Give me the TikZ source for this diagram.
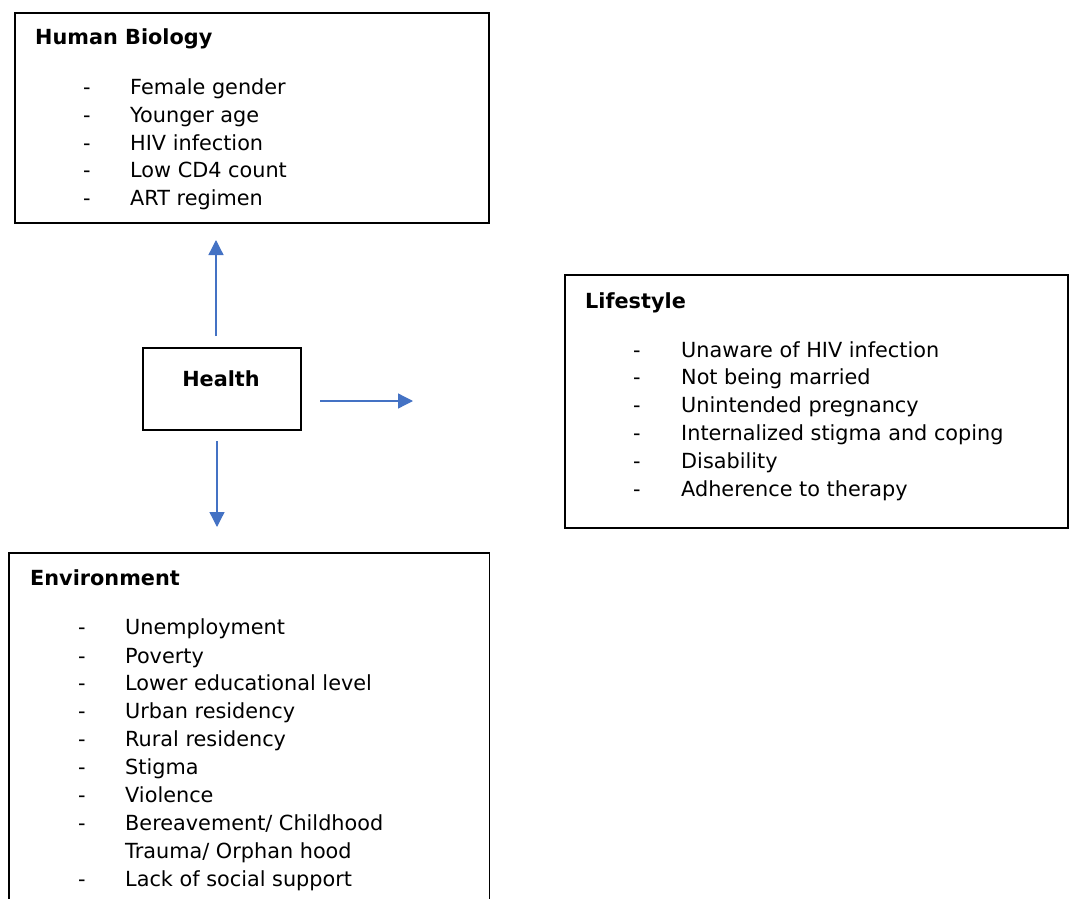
\documentclass[tikz,border=0pt]{standalone}
\usepackage{fontspec}
\setmainfont{DejaVu Sans}
\usetikzlibrary{arrows.meta}
\definecolor{arrowblue}{HTML}{4472C4}
\begin{document}
\begin{tikzpicture}[x=1pt,y=-1pt,
  boxframe/.style={draw=black, line width=1.7pt, inner sep=0pt, anchor=north west},
  txt/.style={anchor=base west, inner sep=0pt, font=\fontsize{20.8}{25}\selectfont},
  ttl/.style={txt, font=\fontsize{20.8}{25}\selectfont\bfseries},
  link/.style={draw=arrowblue, line width=1.3pt, -{Triangle[length=15pt,width=15pt]}}]
\useasboundingbox (0,0) rectangle (1069,899);

% Human Biology
\node[boxframe, minimum width=474pt, minimum height=210pt] (hb) at (14,12) {};
\node[ttl] (hbt) at (35,45) {Human Biology};
\foreach \i/\t/\y in {1/Female gender/95, 2/Younger age/122, 3/HIV infection/150, 4/Low CD4 count/177, 5/ART regimen/205}{
  \node[txt] (hbd\i) at (83,\y) {-};
  \node[txt] (hbi\i) at (130,\y) {\t};
}

% Lifestyle
\node[boxframe, minimum width=503pt, minimum height=253pt] (ls) at (564,274) {};
\node[ttl] (lst) at (585,308) {Lifestyle};
\foreach \i/\t/\y in {1/Unaware of HIV infection/357, 2/Not being married/384, 3/Unintended pregnancy/412, 4/Internalized stigma and coping/440, 5/Disability/468, 6/Adherence to therapy/496}{
  \node[txt] (lsd\i) at (633,\y) {-};
  \node[txt] (lsi\i) at (681,\y) {\t};
}

% Health
\node[boxframe, minimum width=158pt, minimum height=82pt] (hl) at (142,347) {};
\node[ttl, anchor=base] (hlt) at (221,386) {Health};

% Environment (open at the bottom)
\node[inner sep=0pt, anchor=north west, minimum width=480pt, minimum height=352pt] (env) at (9,553) {};
\draw[line width=1.7pt] (env.south west) |- (env.north east) -- (env.south east);
\node[ttl] (envt) at (30,585) {Environment};
\foreach \i/\t/\y in {1/Unemployment/634, 2/Poverty/663, 3/Lower educational level/690, 4/Urban residency/718, 5/Rural residency/746, 6/Stigma/774, 7/Violence/802, 8/Bereavement\slash\ Childhood/830, 10/Lack of social support/886}{
  \node[txt] (envd\i) at (78,\y) {-};
  \node[txt] (envi\i) at (125,\y) {\t};
}
\node[txt] (envi9) at (125,858) {Trauma/ Orphan hood};

% Arrows
\coordinate (upS) at (216,336);
\coordinate (upE) at (216,240);
\coordinate (rtS) at (320,401);
\coordinate (rtE) at (413,401);
\coordinate (dnS) at (217,441);
\coordinate (dnE) at (217,527);
\draw[link] (upS) -- (upE);
\draw[link] (rtS) -- (rtE);
\draw[link] (dnS) -- (dnE);
\end{tikzpicture}
\end{document}
